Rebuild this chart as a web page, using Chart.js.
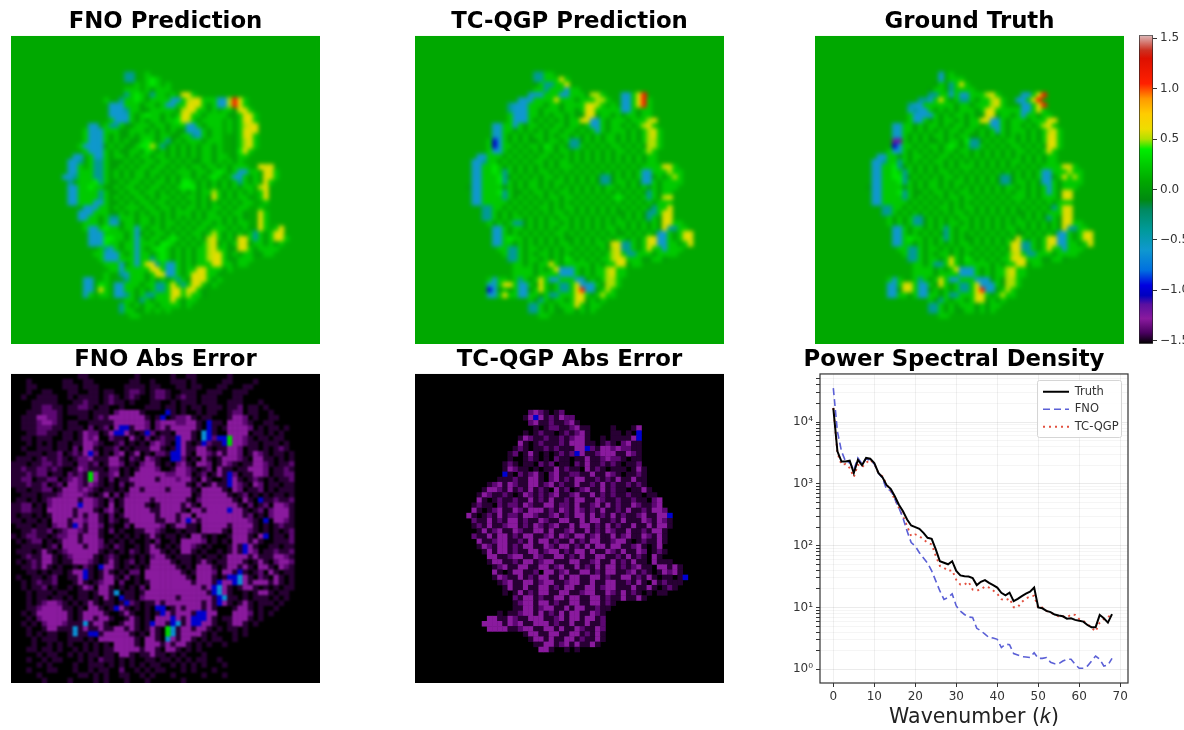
<!DOCTYPE html>
<html>
<head>
<meta charset="utf-8">
<title>Spectral comparison</title>
<script src="https://cdn.jsdelivr.net/npm/chart.js@4/dist/chart.umd.min.js"></script>
<style>
html,body{margin:0;padding:0;background:#fff;overflow:hidden;width:1184px;height:730px}
.c{position:absolute}
</style>
</head>
<body>
<div class="c" style="left:11px;top:6px;width:309px;height:338px"><canvas id="fnoPred"></canvas></div>
<div class="c" style="left:415px;top:6px;width:309px;height:338px"><canvas id="tcPred"></canvas></div>
<div class="c" style="left:815px;top:6px;width:309px;height:338px"><canvas id="truth"></canvas></div>
<div class="c" style="left:1130px;top:25px;width:70px;height:329px"><canvas id="cbar"></canvas></div>
<div class="c" style="left:11px;top:345px;width:309px;height:338px"><canvas id="fnoErr"></canvas></div>
<div class="c" style="left:415px;top:345px;width:309px;height:338px"><canvas id="tcErr"></canvas></div>
<div class="c" style="left:780px;top:345px;width:388px;height:385px"><canvas id="psd"></canvas></div>
<script>
// colour bar
var cbStops = [[-1.53,'#000000'],[-1.42,'#4a0060'],[-1.28,'#8a1a9e'],[-1.14,'#5a10a0'],[-1.05,'#0000c0'],[-0.95,'#0000e0'],[-0.8,'#0070e0'],[-0.6,'#0f98cf'],[-0.4,'#009a9a'],[-0.2,'#008a60'],[-0.1,'#008a10'],[0.08,'#00a800'],[0.25,'#00cc00'],[0.4,'#00ee00'],[0.5,'#b0e000'],[0.6,'#eedd00'],[0.75,'#ffcc00'],[0.9,'#ff9900'],[1.05,'#ff2000'],[1.3,'#dd1000'],[1.38,'#cc3020'],[1.53,'#ddbbbb']];
var cbTicks = [-1.5,-1,-0.5,0,0.5,1,1.5];
var cbTickLabels = ['\u22121.5','\u22121.0','\u22120.5','0.0','0.5','1.0','1.5'];

// cell levels used by the rows below
var predLevels = {'.':0.08,d:0.02,g:0.24,G:0.38,y:0.5,Y:0.58,o:0.85,r:1.1,t:-0.4,b:-0.6,B:-1.0,p:-1.2};
var errLevels = {'.':-1.53,a:-1.47,m:-1.38,P:-1.28,B:-1.0,c:-0.65,G:0.3};

var fnoPredRows = ["","","","","","","",
".......... .......... ..tt..g...",
".......... .......... ..tt..gGg.",
".......... .......... ....g.gGg. g",
".......... .......... ..ggg.gdgg g",
".......... .......... ..tgGg.tgg .g.YYg",
".......... ........g. .tggGgdggg gbbgyYYggg bbyrYg",
".......... .........b bbgggdggdg bbggYYYgdg bbyrYg",
".......... .........b bbtggddggg ggdyYYggdg .ggdYYg",
".......... .........b bbbgdgGggd gdgYYggdgg ggddgYYg",
".......... .........g bbbgdgdggd ggGYygdggg g.gdgYYg",
".......... .....bb.gt tgddgggdgg dgggbbgdgg g.gdgyYY",
".......... ....gbbbgg gddgggdgdg dgddbbbgdg g.gdgYYY",
".......... ....gbbbgd gddgdgggdg gddggtbgdg g..dgYYg",
".......... ....gbbbgd gdgddgGgdg tdgdgggdgg g..dgyYg",
".......... ...gbbbbdg dgddgGGygt dgdgdgdggd g..dgyYg",
".......... ....gbbbgd gddggdGgdg dgdgdgdggd g..dGYg",
".......... ..bb.gbbgd ggdgdggdgg dgdgdgdggd gg.dgg",
".......... .bbt.gttgd ddgdgdggdg gdgdgddggd g.gdg",
".......... .bbg.gttgd dgdgdggdgg dgdgdggdgg dgdggg..YY Y",
".......... .bbgggttgd gdgdggdggd gdgggdggdg Ggdgbbgg.Y Yg",
".......... bbtgggttgd gdgdggdgdg dgdggdgdgG gdgbbgdg.Y Yg",
".......... .t.gggGtgd dgdggdgdgg dgdGGgdgdg dgdgtgdg.Y g",
".......... .bbggGggdd gdggdgdggd gdgGGGdgdg dgdgdgg.yY",
".......... .bbggggtgd dgdggdggdg dgdgdgdggy gdgdgdg.gY",
".......... .bbggggtgd gdgdggdgdg gdgdggdgdY gdgdggd.gY",
".......... .bbgggbbgd dgdgdggdgg dgdgdgdgdg dgdgdgg..g",
".......... ....bbbggd gdgggdggdg gdgdggdgdg gdgdgg..g",
".......... ...bbbgggd dgdgdgdggd gdgggdgdgg dgdggd..Yg",
".......... ...bbggdgt tgggdggdgd gdgdgdgdgg gdgdgd..Yg",
".......... ....gggdgb bdggdggdgd ggdgdgdggd gdgdgg..Yg",
".......... ....gbbgGg gdggbgdggd gdgdgdggdg ggdgdgd.Yg .gY",
".......... .....bbbgg ggdgbdgdgg dgdgdggdgy gdgdgdgtgd gYY",
".......... .....bbbGG ggdgbgdggd gGgdgdgdyY gdgdYYgtgd gYYg",
".......... .....bbbGg gdggbgggdG GgdgdgdgyY dgdgYYdggd gdg",
".......... .......gtb gdggbgdgGG gdgdgdggyY ggddYYgdgg gg",
".......... ......ggbb bgdgbggdgG gdgdgdggyY Ygdgdggddg g",
".......... .......gbb bgggbggtgG gdgdgdggyY Ygddggg",
".......... ........gg gbdgbgYYtg bbgdgdgggY Yggdgg",
".......... .........g gbgggggYYg bbgdggYYgg gdg",
".......... ........g. .tbgggdgYY bbgdgYYYgg d",
".......... ....bb..g. ..tgggdgdg dgtgdYYYgd g",
".......... ....bb.Gg. bbgggdggtt gYgtgYYgdg",
".......... ....bb.Yg. bbggdgdgtt gYYgYYgd",
".......... ....bg.gg. bbtgdgttgg gYYgyggd",
".......... .......... ..ggdtgdgg gYgdgg",
".......... .......... .tgdgdggdg gggdg",
".......... .......... .tggddg.g. g",
".......... .......... ...gg"];

var tcPredRows = ["","","","","","","",
".......... .......... ...ttgg",
".......... .......... ...ttgggYg",
".......... .......... ...dgttggY",
".......... .......... ...ggtgggb gg",
".......... .......... ..bbbgggbb gggdyyg... bbgYr",
".......... .......... bbbggggYgg gdgggyyg.. bbgYrg",
".......... ........tb bbgggdggdg gggYYyg.g. bbgYrg",
".......... ........tb bbggdgggdg gdgYYggggg bbgdgg",
".......... ........gb bbggdgdggd gddYYdggdg dggdgg",
".......... ........gb bbgdgdgdgd ggYYbbgdgg gdgggyY",
".......... .....bbggb gdggdgdggd ggdgbbgdgg dgdgyYg",
".......... .....bbggd gdgdgdggdg gdgdgbgdgg gdgdgyYg",
".......... .....bbgdg dgdggdgdgg dgdgdgdggd gdgdgyYg",
".......... ....gBbgdg dgddgdggdg ttdgdgdggd gdgdgyyg",
".......... ....gBbggd gdggdGgdgd ttgdgdgdgg dgdgdyyg",
".......... ....gbbgdg dgdgdggdgg dgdgdgdgdg gdgdgyg",
".......... ..bbgggdgd gdgdggdgdg dgdgdgdgdg dgdgdgg",
".......... .bbtggdgdg dgdggdgdgg dgdgdgdgdg dgdgdgg",
".......... .bbggGgdgd gdgdgdgdgg gdgdgdgdgd gdgdggggYY g",
".......... .bbggGgtgd gdgdggdgdg dgdgdgdgdg dgdgbbgggy gg",
".......... .bbgggGtdg dgdgdggdgd gdgdgdttdg dgdgbbdgdg yg",
".......... .bbgggGtgd gdggdgdggd gdgdgdttdg gdgdbbgdgg gg",
".......... dbbggggdgd gdggdgdgdg dgdgdgdggd gdgdgdgdgg g",
".......... .bbgggGtgd dgdggdgdgg dgdgdgdgdg dgdgdtgdgg",
".......... .bbggggtgd gdgdgdggdg gdgdgdgdgG gdgdgtgdyY",
".......... .bbgggggdg dgdgdgdgdg dgdgdgdgdg dgdgdgdggg",
".......... ...ttggdgd gdgdggdgdg gdgdgdgdgd gdgdgdtggY",
".......... ...ttgdgdg dgdgdgdggd gdgdgdgdgd dgdgdttgYY",
".......... ...ttgdgdg gdgdgdgdgg dgdgdgdgdg dgdgdtgdYY",
".......... ....gdgdgt tdgdgdggdg dgdgdgdgdg gdgdgdgdYY gg",
".......... .....bbgdg gdgdgdgdgg dgdgdgdggd gdgdgdgdYt tgg",
".......... .....bbgdg dgdgdgdggd gdgdgdgdgd dgdgdgdbbg dgYY",
".......... .....bbgGg gdgdgdgdgd dgdgdgdgdg gdgdgYYbbg dgYY",
".......... .....bbggd gdgdgdgdgg dgdgdggdYY ttgdgYYbbg gdgY",
".......... ......ggtt gdggdgdgdg gdgdgdgdyY ttgdgYggbg gg",
".......... .......gtt gdgdggdgdg dgdgdgdgyY gttgggdggg g",
".......... ........tt gdggdgdgdG gdgdgdggyY Ygggddggd",
".......... .........g gdgdggYgdg ggggdgdggY Ydgg",
".......... .........g gggdgdgYbb bgdgdggyYg g",
".......... .........g gggdggggbb bgdgdggyYg g",
".......... ....gbgg.g tgdgYgbbgg gbbdgdgyyg",
".......... ....bbgYYg bbgdYgdgtt gYbbbgdyyg",
".......... ....Bbdgdg bbdgYgdgtt gYrbbdgyg",
".......... ....bbgYgg bbggdgttgg gYYgdgygg",
".......... .......... ..gdtgdggd gYYdgdg",
".......... .......... ..ttgdgdgg gYgdgg",
".......... .......... ..ttgdgddg gdgdg",
".......... .......... ....gg"];

var truthRows = ["","","","","","","",
".......... .......... ....b.g",
".......... .......... ....b.ggg",
".......... .......... ...dg.tgYg",
".......... .......... ..dgg.tggg g",
".......... .......... ..ttggbgbb gggyYg.... bbgYr",
".......... .......... ttbgYgdgtt gdggyYg.. bbgYr",
".......... ........tb bggggggdgg dgggyYg... bbgYr",
".......... ........bt bbgdgdgdgg gdgYYggggg bbgYg",
".......... ........gb bbbgdgdggd gddYYdggdg bggdgg",
".......... ........gb bgdgdggdgd ggYYbbgdgg gdgggYY",
".......... .....bbggd gdggdgdggd ggdgbbgdgg dgdgyYg",
".......... .....bbggd gdgdgdggdg gdgdgbgdgg gdgdgyYg",
".......... .....bbgdg dgdggdgdgg ddgdgdgdgd gdgdgYYg",
".......... .....ppgdg dgddgdggdG ttdgdgdggd gdgdgYYg",
".......... .....Bbggd gdggdgGgdg ttgdgdgdgg dgdgdYYg",
".......... ....gbbgdg dgdgdggdgg dgdgdgdgdg gdgdgYg",
".......... ..bbggdgdg gdgdggdgdg dgdgdgdgdg dgdgdgg",
".......... .bbtggtgdg dgdggdgdgd gdgdgdgdgg dgdgdgg",
".......... .bbggGtdgd gdgdgdgdgg gdgdgdgdgd gdgdggggYY g",
".......... .bbggGgtgd gdgdggdgdg dgdgdgdgdg dgdgbbgggy gg",
".......... .bbggGGtdg dgdgdggdgd gdgdgdttdg dgdgbbdgYg yg",
".......... .bbgggGtgd gdggdgdggd gdgdgdttdg gdgdbbgdgg gg",
".......... dbbggggdgd gdggdgdgdg dgdgdgdggd gdgdgbgdgg g",
".......... .bbgggGtgd dgdggdgdgg dgdgdgdgdg gdgdgbgdYY",
".......... .bbggggtgd gdgdgdggdg gdgdgdgdgg gdgdgggdYY",
".......... .bbgggggdg dgdgdgdgdg dgdgdgdgdg dgdgdgdggg",
".......... ...ttggdgd gdgdggdgdg gdgdgdgdgd gdgdgdtgYY",
".......... ...ttgdgdg dgdgdgdggd gdgdgdgdgd dgdgdgggYY",
".......... ....gdgdgt tdgdgdgdgg dgdgdgdgdg dgdgdtgdYY",
".......... ....gdgdgt tdgdgdggdg dgdgdgdgdg gdgdgdgdYY gg",
".......... .....bbgdg gdgdgtgdgg dgdgdgdggd gdgdgdgdYt tgg",
".......... .....bbgdg dgdgdtgdgd gdgdgdgdgd dgdgdgdbbg dgYY",
".......... .....bbgGg gdgdgtgdgd dgdgdgdgdY gdgdgYYbbg dgYY",
".......... .....bbggd gdgdgdgdgg dgdgdgdgYY ttgdgYYbbg gdgY",
".......... ......ggtt gdggdgdgdg gdgdgdgdYY ttgdgYggbg gg",
".......... .......gtt gdgdggdgdg dgdgdgdgyY gttgggdggg g",
".......... ........tt gdggdgYgdG gdgdgdggYY Ygggddggd",
".......... .........g gdgttgYgdg ggggdgdggY Ydgg",
".......... .........g gggdgdgYbb bgdgdggyYg g",
".......... .........g gggdggggbb bgdgdggyYg g",
".......... ....gbg..g tgdgYgbbgg gbbbdgdyyg",
".......... ....bbgYYg bbgdYgdgtt gYbbbgdyyg",
".......... ....bbdYYg bbdgdgdgtt gYrbbdgyg",
".......... ....bbggdg bbggdgttgg gYYgdgygg",
".......... .......... ..gdtgdggd gYYdgdg",
".......... .......... ..ttgdgdgg gdgdgg",
".......... .......... ..ttgdgddg gdgdg",
".......... .......... ....gg"];

var fnoErrRows = [
".......... ...aa..... ....a..... .a..aa.... ..a",
"...a...... aa..aa.... ...aa..a.. .aaa.a.... .aa....a",
"...aa..... aaa.aaa... ..aaaa.aa. ..aa.aa... aa...aa",
"...a..aa.. .aa..aa.aa ..amma.amm a..aaa..aa a..aaa",
"..a..aaaa. .a.aaaa.am a.ama..amm a.amaa.aaa ...aa",
"....aaaaa. ..aamaa.am aa.a...aa. .a.aaa.aaa ..aaa...a",
"....aammaa .aamma.aa. .a....aaa. aa.a.aa.aa a.aam.aa.a",
"...aaammma .aaaa.aaa. mPPPPa.... Ba.a..a.aa ..amm.aa.. a",
"..aaaPPmma ...aa.amaP PPPPPPa.aB .ammPa.aa. ..aPPm.a.. aa",
"..aaamPPma .aa..aaaaa PPPPPPm.mP PPmmPPa.Ba a.PPPma..a a",
"..aaammmaa .aaa.m.am. PBBaPPm.mP aPPPPPa.Ba .aPPPPm.a. aa.a",
"...aammaa. aa.aPmm.aP BBPa.aBm.a a.PPPa.cBa ..PPPP.aa. a.a",
"..aa.aaa.. aa.aPmP..m aa.Pa.m.am aaBPPa.cBm BBGPPma.aa .aa",
"...a.a.a.a a.aaPPma.. am.a.a.mPm a.BPa.aBma aBGPPmaa.a aa.a",
"..a..aaa.a a.m.PPa.aa m.a.aaaPPa .aBPaaPPa. aaPPm.aa.a .ama",
"...aaa.aam .amaPBm.a. mP.aP.a.mm aBBPa.PPma PaPPm.aPma .aa.a",
".aaa.amaam a.ammPaaaP Pa.ma.Pma. .BBm.a.Pa. aPPPma.PPa a.a.a",
"aaa.aammam aa.mmam.aP Pm.a.mPPa. a.mPa.PPm. aPma.aaPPm a.aam",
"aamaammama ..aPmaaa.m m.a.aPPPm. .aPPma.am. Paa.aaPPPm .aama",
"aaamamm.aa .mamaGPaam P.a.PPPPPP mmPPm.am.a PaBm.aaPPm .aamm",
"aamm.aamm. amPmaGPa.m .aaPPPPPaP PPmPPa.Pa. .aBPa.ama. a.aam",
"aaamaam.am .PPmaPma.a .m.aPPPPPP PPPPa.m.aP aaBPma.Pm. aa.aa",
".aa.aamm.a PPPmPma.aa .a.PPaPPPP aPPPPa.PPP Pa.Pm.aam. a.aaa",
"..aaa.aaam PPPPma.aP. m.mPPPPPPP PPPPP.aPPP PPa.am.a.a .aa.a",
".aa.a.amPP PPPaPPma.m .aPPPPPaPP PPPPa.mPPP PPPa.Pa.Ba amaam",
"aamm.a.mPP PPPBPPma.P .aPPPPa.aP PPPaPa.PPP PPPPa.m.am .PPma",
"aammaa.PPP PPaPPPa.mP a.PPPPPaaP PPPa.PPaPP PPBPPa.am. mPPPa",
"a.aa.a.aPP PPaPaPPa.m .aPPPPPPaP PPaPP.PPPP PPPPPam.a. mPPPa",
"aa.aa.a.PP PaPPmPPa.m a.aPPPPPaa PPaPBPaPPP PPPPPPma.B .PPma",
".aaa.aa.mP PaBPaPPm.a ..m.PPPPPm .aPPaa.PPP PPaPPPPa.a .amaa",
"..aamaam.a mPPmaPPa.m .a..aaPPma ..a.aa.PPP Pa.PPPma.a .a.am",
"a.ammaa.am mPPaPPPa.. a.a.a.aPa. aa.a.PPa.a ..aPPPa.PB .aa.m",
".a.amm.a.a PPPaPPPm.a .a.a..a.m. .a.PPPPm.a .a.PPPaPa. .aaam",
"..aaaa.am. PPPPaPPma. ma..a.aPa. a.aPPma.a. ..aPaBPa.. aa.aa",
".aaa.aPa.a mPPPPPPa.a .a.ma.aPPa .a.PPa.a.. a.aPaBPm.a amaam",
"..amaaPPa. amPPPPa.am a..a.a.mPP a.aaa.a.aa .aPPPPaPaa aPPma",
".a.amaPPa. aaPPPma.aP a.am.a.PPP Pa.aa.aPa. aaPPPa.aPa .mPPm",
"..aamaPa.a ..a.ma.BPP a.a.a.aPPP PPa.a.PPPa .aPPaPa.PP a.Pma",
"...aa.a.aa .aPPBa.aPa .a.mm.PPPP PPPa.aPPPm .PPaBa.am. Pa.aa",
".a..aa.am. .aaPBa.aPP a.m.a.PPPP PPPPa.PPPa .aBBcPa.ma .Pa.a",
"..a.amaam. ..aPa.amPP .m..a.aPPP PPPPPaPPPa BPPBcPaPPP aPa.a",
"..a.aam.a. .a.aPm.PPa .a.a.m.PPP PPPPPPPaPB cPa.aPPa.a .a.aa",
"...a.aaa.a a..aa.aPPa c.aa.aPPPP PPPPPPPPaB cPa..a.aPP a.aa",
"...a.aa.aa .a.aa.a.Pa .Baa.mPPPP PPaPPPPPPa Bcaa.a.aaa .a.a",
"...a.amPPm a.a.aPa.aa .aBma.aaPa PPPPPPPaPa BPa.aPa.aa a.a",
"...aamPPPP aa.a.PPa.a BPa.a.a.BB .aPaPPPaPa ...aPPa.a. .a",
"..a.aPPPPP Pa.aPPPPa. .aPa..a.aB PaPPPaBBPP ...PPPm.a. a",
"...a.mPPPP Pa.aPPaPPa ..aPa.a.PP PBPaPBBBPa .aaPPPa.a",
"..a.a.mPPP maaacaPPa. .aPPa.aBPP aBcaPBBPPa ..aPPa.a",
"...a..aPPa aacaPaaPaa PPaPa.aPa. GcaPPaPPa. a.aa.a",
"...a.a.aa. .acaaBBaPP PPPa.a.Pa. GcaPPPPa.a ...a.a",
"....a.aaa. .aaa.a.PPP PPPPa.PPa. cPaPPa.a.a a..a",
"....a..a.a .a..a.a.a. PPPPa.PPPa PaPPa.a.a. .a",
"...aa.aa.a ..a.a.a.aa PPPPPaPPa. PPa.a.a...",
".....a.aa. .a.a.aa.aa .PPa.aaPaa .a.a...a..",
"...a..a.aa ...a.a.maa .a.a..aa.a a.a.a.aa.. a",
".....a.a.. ..a..aaa.a .a.a.a.aa. .a.a.a.a.. .a",
"...a...aa. ..a..a.aa. .m..a.a.aa ...a.a...a",
".....a.... ...aa.a.a. .aa..a.a.. .a.....a.. .a",
"......a... .a....a.a. ..a...a... ...a"];

var tcErrRows = ["","","","","","","",
".......... .......... ..mPma.am",
".......... .......... .aPBPamaPm m",
".......... .......... ..mPaamaam Pa",
".......... .......... ...a.ammaa mPaa....a. ..aP",
".......... .......... .a.amaa.am amPa....aa .a.B",
".......... .......... aPmaamaama mPPa..a.aa aaPB",
".......... .......... Pa.amaaama PPPaa.ama. mPaa",
".......... .........a ma.aamamaa aPPBmaPPmP mmaa",
".......... ........am .aPa.a.ama mBPaamPPPa aPma",
".......... ........a. .ama.a.maa .aaPaamPmm a.aa",
".......... .......ama .aa.mam.aa .maPaamama .aam",
".......... .......aPm aa.a.aaPam aa.Pama.aa a.aPa",
".......... .......Ba. mamPa.mPaa mmaaPaaPma .aama",
".......... ......aaam aaPPa.mPam aPPaamamaP aaPaa",
".......... ....amPaPm aaPPamPama aPaamaPama amama",
".......... ...aPPmaPa maPama.Pam .amPaaPama a.aaPa",
".......... ..aPmaama. aPmamamPaa mPaaPamama amaa.aa",
".......... ..Pa.amaam aaPamaPaam aPPaaPmaam aamaa.mP",
".......... .amaa.mamm aPmaaPPamm aPaamPaPam aaPmaamP",
".......... .Pa.amPaaP maPPPamaPm aPmamaPaam aPaamaPPm",
".......... Pa.amaPamm aPPmaamPam aPPaPamaPa maamPaaPPB",
".......... .maaPamaPP amaaPmaaPP aaPaPPaama PaaaPmaPma",
".......... .amaPaamPP amaPmamPaa PaPPamaPam aaPaaPaPPa",
".......... ..aPamPaaP maaPPaPaam PaaPamaPma aPaamaPPa",
".......... .maaPaPPam aPPaamPaPm aPPamPaaPa mPaaPmaPa",
".......... ..PaamPPaa maPaPPamaa PamaPPaamP Pa.amaaPa",
".......... ..aPmaPPam aPPaaPmaPP amaPaPPaPP aamPa.aP",
".......... ...aPaPPam aaPPamPPam aPPaPaaPma PaaPm.ama",
".......... ....PPaamP PaaPmaaPPa maPaaPPaam aPama.Pa",
".......... ....aPPaam aPPamPPaaa PPaamPaaPa maPaa.Paa a",
".......... .....amPaa PPaaPPamPa aPamaPaPPa mamPaa.PPa Pa",
".......... .....Pa.aP Paam.PPamP aaPPamaPPa amPama.aP mPa",
".......... .....aPmaa PamaPPaaPa PPaaPPamaa PPamaPa.aa .aB",
".......... ......amPa aPPamPPaam PPaaPaaPPa amaPa.Pama aa",
".......... .......aPa aPaaPPamaP PaaPPamPPa aaPaaPa.am a",
".......... .......a.a PamaPPaaPP aamPPaaPma Pama.a.aa",
".......... .........m aPPamaaPPa PPaaPPamaa PaaPa",
".......... .........a mPPaPPamaa PPaaPPama.",
".......... .........a aPPamPPaaP aPPaamaa.",
".......... ......a.aa mPPaPamaPa PPaaPma.",
".......... ....PPaaPm aaPPPaamPa PPaPPam",
".......... ...PPPPaPm PaaPPPamaa PaaPaam",
".......... ....PPPPaa mPPaaPPaPa aPmaaPm",
".......... .......... .aPPaaPPaa PPamaPa",
".......... .......... ..aPPaPaaP PamaaPa",
".......... .......... ...aaPPamP aPaaPa",
".......... .......... ....PPa..a .a"];

var cols = 60;

// power spectrum
var wavenumbers = [0,1,2,3,4,5,6,7,8,9,10,11,12,13,14,15,16,17,18,19,20,21,22,23,24,25,26,27,28,29,30,31,32,33,34,35,36,37,38,39,40,41,42,43,44,45,46,47,48,49,50,51,52,53,54,55,56,57,58,59,60,61,62,63,64,65,66,67,68];
var truthPsd = [16800,3360,2300,2300,2370,1500,2450,2000,2630,2550,2180,1500,1280,950,830,630,460,360,265,212,200,187,161,134,129,87,56,53,50,56,39,33,32,31.6,30,23,26,27.7,25,23,21,17.3,15.7,17.4,12.7,13.8,15.3,16.7,18,21,10,9.7,8.8,8.4,7.7,7.4,7.2,6.6,6.7,6.3,6.1,5.9,5.2,4.8,4.8,7.6,6.7,5.7,7.8];
var fnoPsd = [35400,7000,3370,2300,2200,1700,2630,2100,2550,2400,2100,1500,1240,810,790,570,410,280,172,112,98,77,63,52,39,27,18.5,13.5,14.5,16.6,10.6,8.7,7.7,7,6.9,4.6,4.2,3.7,3.25,3.2,3.05,2.25,2.55,2.5,1.8,1.7,1.6,1.58,1.55,1.85,1.5,1.5,1.55,1.3,1.23,1.23,1.36,1.45,1.45,1.2,1.04,1.04,1.13,1.36,1.64,1.45,1.13,1.17,1.5];
var tcPsd = [17000,3150,2040,2090,1810,1290,2040,1850,2180,2470,2100,1500,1320,980,760,560,410,300,207,143,152,143,126,112,105,68,47,44,39,40,28,23.5,23.5,26,19.5,18.8,19.5,22,21,18.8,16.7,13.6,13,14,10.1,10.1,12.3,14,15,15.5,9.7,10,8.8,8.2,7.7,7.2,7.2,6.9,7.7,7.6,6.5,6.1,5.4,4.7,4.1,5.7,6.5,6.9,8];
var psdXTicks = [0,10,20,30,40,50,60,70];
var psdYTicks = [1,2,3,4,5,6,7,8,9,10,20,30,40,50,60,70,80,90,100,200,300,400,500,600,700,800,900,1000,2000,3000,4000,5000,6000,7000,8000,9000,10000,20000,30000,40000,50000];
var psdYLabels = {1:'10\u2070',10:'10\u00b9',100:'10\u00b2',1000:'10\u00b3',10000:'10\u2074'};

var titleFont = {family:'"DejaVu Sans"',size:22.8,weight:'bold',lineHeight:1.2};

function hex2rgb(h){return [parseInt(h.substr(1,2),16),parseInt(h.substr(3,2),16),parseInt(h.substr(5,2),16)]}
function colorAt(v){
    for(var i=1;i<cbStops.length;i++){
        if(v<=cbStops[i][0]){
            var a=cbStops[i-1],b=cbStops[i],f=(v-a[0])/(b[0]-a[0]);
            var p=hex2rgb(a[1]),q=hex2rgb(b[1]);
            return 'rgb('+Math.round(p[0]+(q[0]-p[0])*f)+','+Math.round(p[1]+(q[1]-p[1])*f)+','+Math.round(p[2]+(q[2]-p[2])*f)+')';
        }
    }
    return cbStops[cbStops.length-1][1];
}

function toCells(rows,levels){
    var out=[];
    rows.forEach(function(r,y){
        var s=r.replace(/ /g,'');
        for(var x=0;x<s.length&&x<cols;x++){
            if(s[x]!='.') out.push({x:x+0.5,y:y+0.5,v:levels[s[x]]});
        }
    });
    return out;
}

var heatPlugin = {
    id:'heat',
    beforeDatasetsDraw:function(chart,args,opts){
        var a=chart.chartArea,ctx=chart.ctx;
        ctx.save();
        ctx.fillStyle=colorAt(opts.base);
        ctx.fillRect(a.left,a.top,a.width,a.height);
        ctx.restore();
    },
    afterDatasetsDraw:function(chart,args,opts){
        var a=chart.chartArea,ctx=chart.ctx,r=chart.currentDevicePixelRatio;
        ctx.save();
        ctx.filter='blur('+opts.blur+'px)';
        ctx.beginPath();ctx.rect(a.left,a.top,a.width,a.height);ctx.clip();
        ctx.drawImage(chart.canvas,a.left*r,a.top*r,a.width*r,a.height*r,a.left,a.top,a.width,a.height);
        ctx.restore();
    }
};

function heatmap(id,title,rows,levels,blur,titleTop,titleBottom){
    return new Chart(document.getElementById(id),{
        type:'scatter',
        data:{datasets:[{
            data:toCells(rows,levels),
            pointStyle:'rect',
            borderWidth:0,
            pointRadius:function(c){return (c.chart.width/cols+0.4)/Math.SQRT2},
            backgroundColor:function(c){return c.raw?colorAt(c.raw.v):'#000'}
        }]},
        options:{
            responsive:true,maintainAspectRatio:false,animation:false,
            layout:{padding:0,autoPadding:false},
            events:[],
            scales:{
                x:{display:false,min:0,max:cols},
                y:{display:false,min:0,max:cols,reverse:true}
            },
            plugins:{
                legend:{display:false},
                tooltip:{enabled:false},
                title:{display:true,text:title,color:'#000',font:titleFont,padding:{top:titleTop,bottom:titleBottom}},
                heat:{base:levels['.'],blur:blur}
            }
        },
        plugins:[heatPlugin]
    });
}

heatmap('fnoPred','FNO Prediction',fnoPredRows,predLevels,2.2,2.6,0);
heatmap('tcPred','TC-QGP Prediction',tcPredRows,predLevels,2,2.6,0);
heatmap('truth','Ground Truth',truthRows,predLevels,2,2.6,0);
heatmap('fnoErr','FNO Abs Error',fnoErrRows,errLevels,1.1,1.6,0);
heatmap('tcErr','TC-QGP Abs Error',tcErrRows,errLevels,0.7,1.6,0);

new Chart(document.getElementById('cbar'),{
    type:'bar',
    data:{labels:[''],datasets:[{
        data:[[-1.53,1.53]],
        barPercentage:1,categoryPercentage:1,
        borderColor:'#222',borderWidth:1,borderSkipped:false,
        backgroundColor:function(c){
            var a=c.chart.chartArea;
            if(!a) return '#000';
            var g=c.chart.ctx.createLinearGradient(0,a.bottom,0,a.top);
            cbStops.forEach(function(s){g.addColorStop((s[0]+1.53)/3.06,s[1])});
            return g;
        }
    }]},
    options:{
        responsive:true,maintainAspectRatio:false,animation:false,events:[],
        layout:{padding:{left:9,top:10,bottom:10,right:0}},
        scales:{
            x:{display:false},
            y:{
                position:'right',min:-1.53,max:1.53,
                grid:{drawOnChartArea:false,tickLength:4,tickColor:'#333'},
                border:{display:false},
                afterBuildTicks:function(s){s.ticks=cbTicks.map(function(v){return {value:v}})},
                afterFit:function(s){s.width=47},
                ticks:{
                    autoSkip:false,color:'#333',padding:3,font:{family:'"DejaVu Sans"',size:12},
                    callback:function(v){return cbTickLabels[cbTicks.indexOf(v)]}
                }
            }
        },
        plugins:{legend:{display:false},tooltip:{enabled:false}}
    }
});

var psdFrame = {
    id:'psdFrame',
    afterLayout:function(chart){
        var l=chart.legend;
        l.left=257;l.right=341;l.top=35;l.bottom=140;
        if(!l.wrapped){
            var d=l.draw;
            l.draw=function(){
                var ctx=chart.ctx;
                ctx.save();
                ctx.fillStyle='rgba(255,255,255,0.9)';
                ctx.strokeStyle='#d5d5d5';
                ctx.lineWidth=1;
                ctx.beginPath();
                ctx.roundRect(257.5,35.5,84,57,2);
                ctx.fill();ctx.stroke();
                ctx.restore();
                d.call(l);
            };
            l.wrapped=true;
        }
    },
    afterDatasetsDraw:function(chart){
        var a=chart.chartArea,ctx=chart.ctx;
        ctx.save();
        ctx.strokeStyle='#333';ctx.lineWidth=1.2;
        ctx.strokeRect(a.left,a.top,a.width,a.height);
        ctx.restore();
    }
};

function pairs(ys){return wavenumbers.map(function(k,i){return {x:k,y:ys[i]}})}

new Chart(document.getElementById('psd'),{
    type:'line',
    data:{datasets:[
        {label:'Truth',data:pairs(truthPsd),borderColor:'#000',borderWidth:2,pointRadius:0,tension:0},
        {label:'FNO',data:pairs(fnoPsd),borderColor:'#5b60d6',borderWidth:1.6,borderDash:[7,4],pointRadius:0,tension:0},
        {label:'TC-QGP',data:pairs(tcPsd),borderColor:'#e2503f',borderWidth:1.9,borderDash:[2,4],pointRadius:0,tension:0}
    ]},
    options:{
        responsive:true,maintainAspectRatio:false,animation:false,events:[],
        layout:{padding:{left:0,right:40,top:0,bottom:0},autoPadding:false},
        scales:{
            x:{
                type:'linear',min:-3.25,max:71.9,
                grid:{color:'rgba(0,0,0,0.06)',tickColor:'#333',tickLength:4},
                border:{display:false},
                afterBuildTicks:function(s){s.ticks=psdXTicks.map(function(v){return {value:v}})},
                afterFit:function(s){s.height=47},
                ticks:{color:'#333',padding:3,maxRotation:0,autoSkip:false,font:{family:'"DejaVu Sans"',size:12}},
                title:{display:true,text:'Wavenumber (\ud835\udc58)',color:'#222',padding:{top:4,bottom:0},font:{family:'"DejaVu Sans"',size:20.5}}
            },
            y:{
                type:'logarithmic',min:0.617,max:60000,
                grid:{
                    color:function(c){return c.tick&&psdYLabels[c.tick.value]?'rgba(0,0,0,0.08)':'rgba(0,0,0,0.04)'},
                    tickColor:'#333',tickLength:4
                },
                border:{display:false},
                afterBuildTicks:function(s){s.ticks=psdYTicks.map(function(v){return {value:v}})},
                afterFit:function(s){s.width=40},
                ticks:{
                    color:'#333',padding:3,autoSkip:false,font:{family:'"DejaVu Sans"',size:12},
                    callback:function(v){return psdYLabels[v]||''}
                }
            }
        },
        plugins:{
            tooltip:{enabled:false},
            title:{display:true,text:'Power Spectral Density',color:'#000',font:titleFont,padding:{top:1.6,bottom:0}},
            legend:{
                position:'chartArea',align:'start',
                labels:{
                    usePointStyle:true,pointStyle:'line',pointStyleWidth:26,color:'#333',padding:6,font:{family:'"DejaVu Sans"',size:11.5},
                    generateLabels:function(chart){
                        var items=Chart.defaults.plugins.legend.labels.generateLabels(chart);
                        items.forEach(function(it,i){
                            var ds=chart.data.datasets[i];
                            it.lineDash=ds.borderDash||[];
                            it.lineWidth=ds.borderWidth;
                            it.strokeStyle=ds.borderColor;
                        });
                        return items;
                    }
                }
            }
        }
    },
    plugins:[psdFrame]
});
</script>
</body>
</html>
